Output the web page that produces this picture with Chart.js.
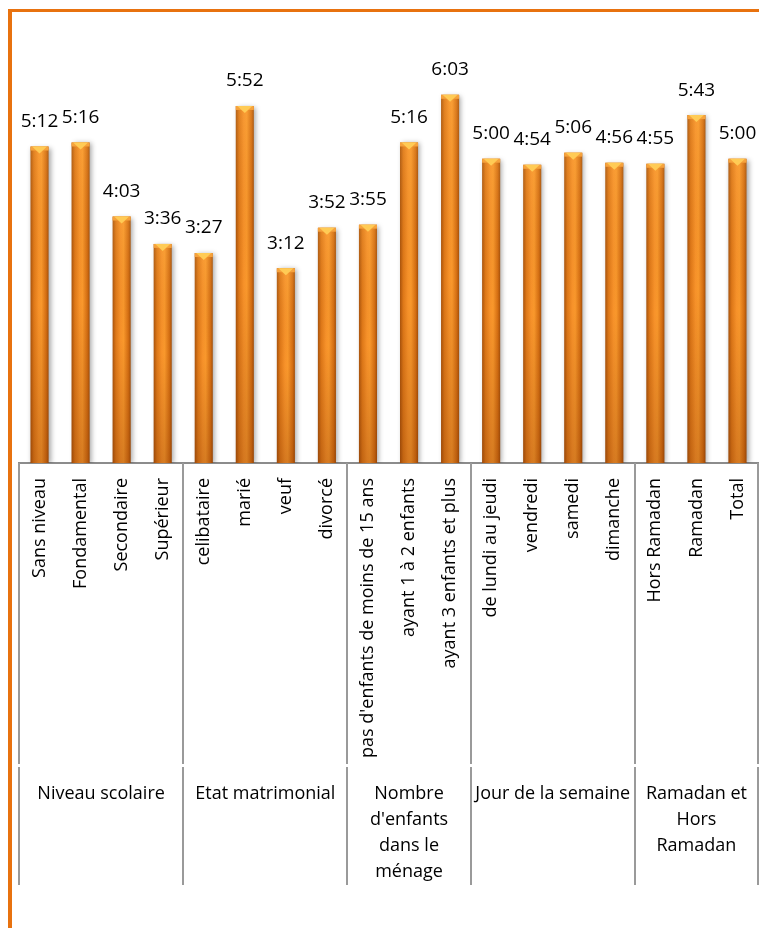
<!DOCTYPE html>
<html>
<head>
<meta charset="utf-8">
<script src="https://cdn.jsdelivr.net/npm/chart.js@4"></script>
<style>
  html, body { margin: 0; padding: 0; background: #fff; }
  body { width: 759px; height: 928px; position: relative; overflow: hidden; }
  #frame { position: absolute; left: 8px; top: 9px; width: 800px; height: 1000px;
           border-left: 4px solid #E8720F; border-top: 3px solid #E8720F; box-sizing: border-box; }
  #wrap { position: absolute; left: 0; top: 0; width: 759px; height: 928px; }
</style>
</head>
<body>
<div id="frame"></div>
<div id="wrap"><canvas id="c" width="759" height="928"></canvas></div>
<script>
// ---- data ----
const categories = [
  "Sans niveau", "Fondamental", "Secondaire", "Supérieur",
  "celibataire", "marié", "veuf", "divorcé",
  "pas d'enfants de moins de 15 ans", "ayant 1 à 2 enfants", "ayant 3 enfants et plus",
  "de lundi au jeudi", "vendredi", "samedi", "dimanche",
  "Hors Ramadan", "Ramadan", "Total"
];
// durations in minutes (h:mm)
const durationMinutes = [312, 316, 243, 216, 207, 352, 192, 232, 235, 316, 363, 300, 294, 306, 296, 295, 343, 300];
const groupNames = [
  ["Niveau scolaire"],
  ["Etat matrimonial"],
  ["Nombre", "d'enfants", "dans le", "ménage"],
  ["Jour de la semaine"],
  ["Ramadan et", "Hors", "Ramadan"]
];
const groupSizes = [4, 4, 3, 4, 3];

const FONT = "'Open Sans', 'Noto Sans', sans-serif";
const fmt = m => Math.floor(m / 60) + ":" + String(m % 60).padStart(2, "0");

const barStyle = {
  id: 'barStyle',
  beforeDatasetsDraw(chart) {
    const ctx = chart.ctx;
    ctx.save();
    ctx.shadowColor = 'rgba(0,0,0,0.35)';
    ctx.shadowBlur = 5;
    ctx.shadowOffsetX = 2;
    ctx.shadowOffsetY = 1;
  },
  afterDatasetsDraw(chart) {
    const ctx = chart.ctx;
    ctx.restore();
    const meta = chart.getDatasetMeta(0);
    const bottom = chart.chartArea.bottom;
    meta.data.forEach((bar, i) => {
      const w = bar.width, x0 = bar.x - w / 2, x1 = bar.x + w / 2, top = bar.y;
      // vertical darkening toward the base
      const vg = ctx.createLinearGradient(0, top, 0, bottom);
      vg.addColorStop(0, 'rgba(255,210,120,0.12)');
      vg.addColorStop(0.5, 'rgba(120,50,0,0.0)');
      vg.addColorStop(1, 'rgba(110,40,0,0.25)');
      ctx.fillStyle = vg;
      ctx.fillRect(x0, top, w, bottom - top);
      // bevel cap
      ctx.fillStyle = '#F6A23C';
      ctx.fillRect(x0, top, w, 4);
      ctx.beginPath();
      ctx.moveTo(x0 + 1.5, top);
      ctx.lineTo(x1 - 1.5, top);
      ctx.lineTo(bar.x, top + 7);
      ctx.closePath();
      ctx.fillStyle = '#FFCB55';
      ctx.fill();
      // value label
      ctx.fillStyle = '#000';
      ctx.font = "19px " + FONT;
      ctx.textAlign = 'center';
      ctx.textBaseline = 'middle';
      ctx.fillText(fmt(durationMinutes[i]), bar.x, top - 25);
    });
  }
};

const groupAxis = {
  id: 'groupAxis',
  afterDraw(chart) {
    const ctx = chart.ctx;
    const xs = chart.scales.x;
    const half = (xs.getPixelForValue(1) - xs.getPixelForValue(0)) / 2;
    const yTop = chart.chartArea.bottom;
    const yBot = xs.bottom;
    ctx.save();
    ctx.strokeStyle = '#9a9a9a';
    ctx.lineWidth = 2;
    let idx = 0;
    const bounds = [];
    groupSizes.forEach(n => { bounds.push(idx); idx += n; });
    bounds.push(idx);
    bounds.forEach(b => {
      const px = Math.round(b === categories.length ? xs.getPixelForValue(b - 1) + half : xs.getPixelForValue(b) - half);
      ctx.beginPath();
      ctx.moveTo(px, yTop);
      ctx.lineTo(px, yBot - 121);
      ctx.moveTo(px, yBot - 118);
      ctx.lineTo(px, yBot);
      ctx.stroke();
    });
    ctx.fillStyle = '#000';
    ctx.font = "18px " + FONT;
    ctx.textAlign = 'center';
    ctx.textBaseline = 'middle';
    groupNames.forEach((lines, g) => {
      const a = xs.getPixelForValue(bounds[g]) - half;
      const b = xs.getPixelForValue(bounds[g + 1] - 1) + half;
      const cx = (a + b) / 2;
      lines.forEach((t, k) => ctx.fillText(t, cx, yBot - 91 + k * 26));
    });
    ctx.restore();
  }
};

new Chart(document.getElementById('c'), {
  type: 'bar',
  data: {
    labels: categories,
    datasets: [{
      data: durationMinutes,
      barPercentage: 0.44,
      categoryPercentage: 1.0,
      borderWidth: 0,
      backgroundColor: (c) => {
        const chart = c.chart;
        if (!chart.chartArea || c.type !== 'data') return '#EF8A26';
        const x = chart.scales.x.getPixelForValue(c.dataIndex);
        const w = 9.5;
        const g = chart.ctx.createLinearGradient(x - w, 0, x + w, 0);
        g.addColorStop(0, '#A24E0A');
        g.addColorStop(0.2, '#DE7818');
        g.addColorStop(0.45, '#F7922A');
        g.addColorStop(0.6, '#F9982C');
        g.addColorStop(0.85, '#D46E12');
        g.addColorStop(1, '#9C4A08');
        return g;
      }
    }]
  },
  options: {
    responsive: false,
    animation: false,
    devicePixelRatio: 1,
    layout: { padding: { left: 19, right: 1, top: 37, bottom: 43 } },
    plugins: { legend: { display: false }, tooltip: { enabled: false } },
    scales: {
      y: { display: false, min: 0, max: 420 },
      x: {
        grid: { display: false, drawTicks: false },
        border: { display: true, color: '#8c8c8c', width: 2 },
        ticks: {
          autoSkip: false, maxRotation: 90, minRotation: 90, padding: 15,
          color: '#000', font: { family: FONT, size: 18 }
        },
        afterFit(scale) { scale.height = 422; scale.paddingLeft = 0; scale.paddingRight = 0; }
      }
    }
  },
  plugins: [barStyle, groupAxis]
});
</script>
</body>
</html>
